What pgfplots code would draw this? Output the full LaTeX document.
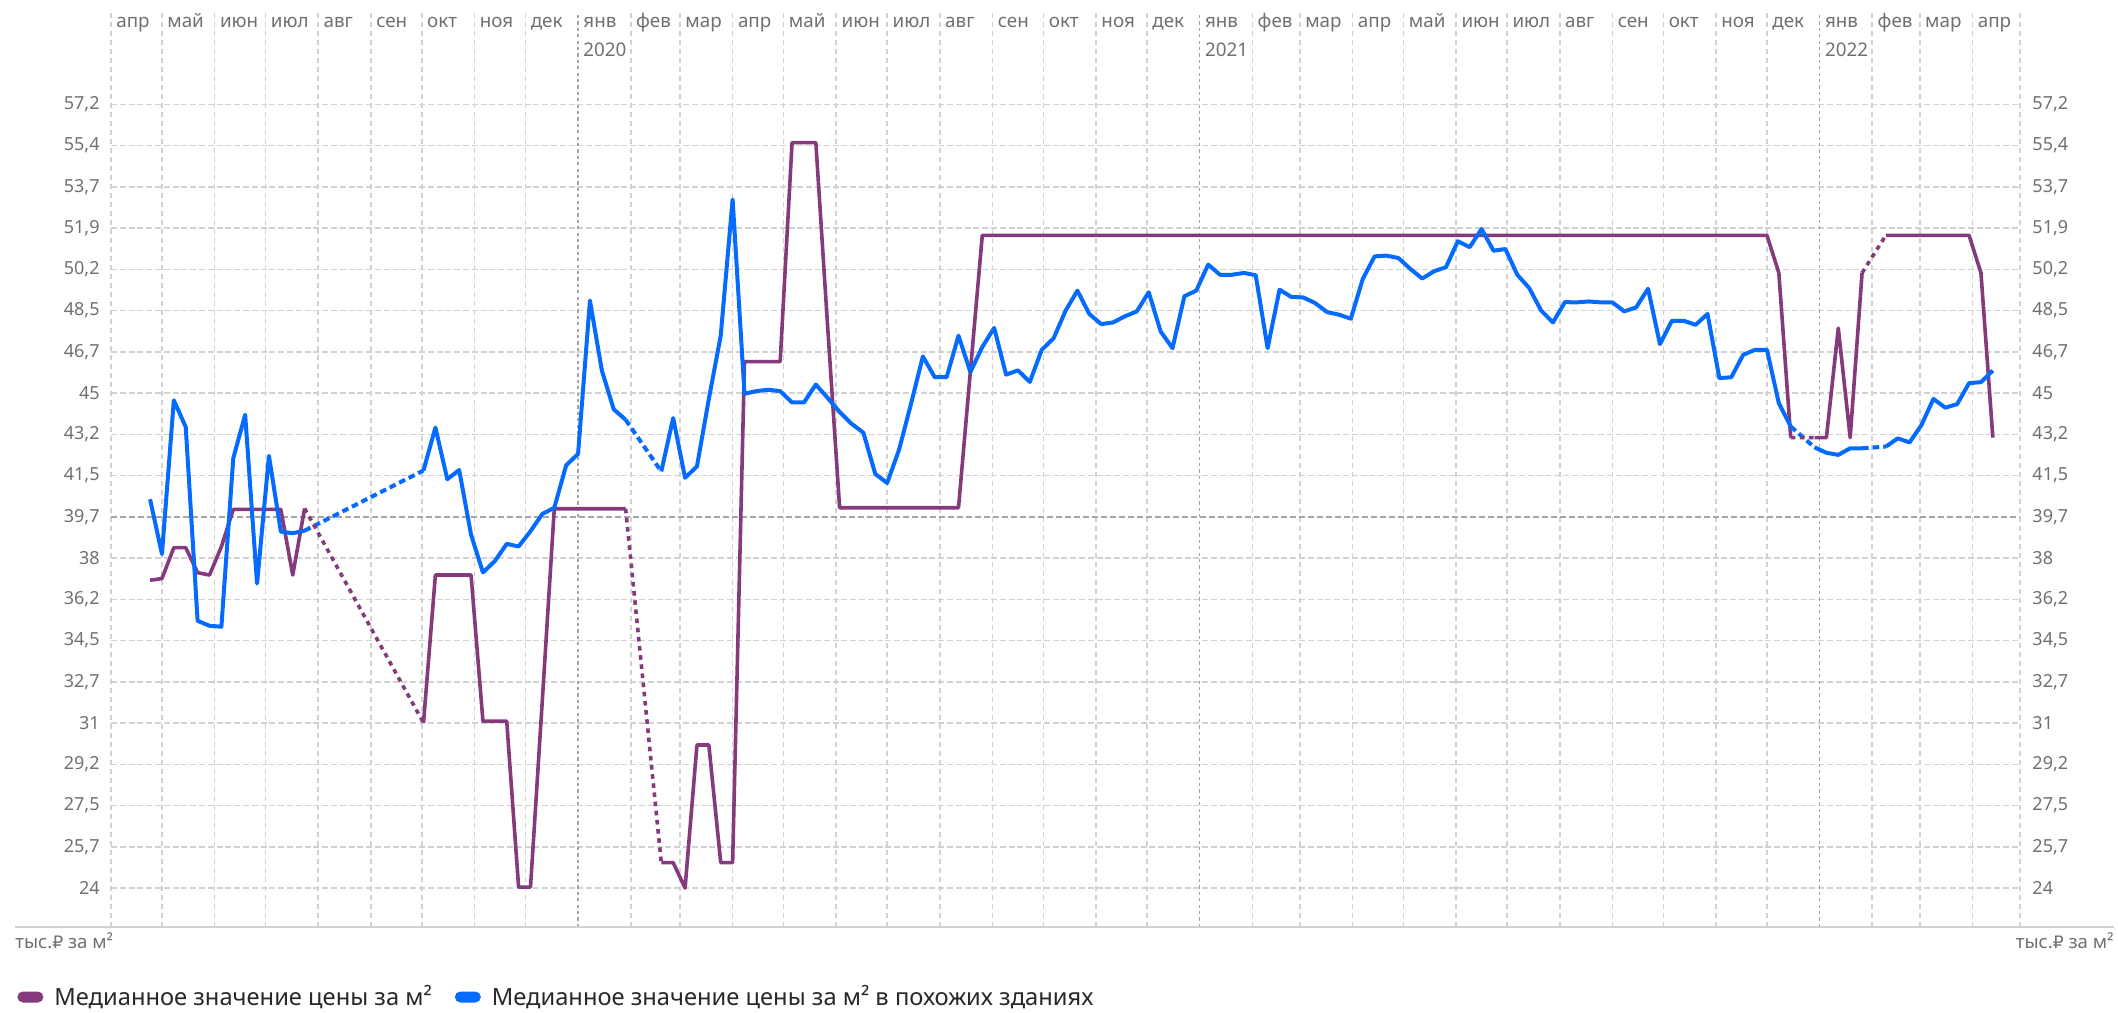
\documentclass[border=0pt]{standalone}
\usepackage{fontspec}
\setmainfont{Noto Sans}
\newfontfamily\rubf{DejaVu Sans}
\usepackage{pgfplots}
\usepackage{pgfplotstable}
\pgfplotsset{compat=1.18}
\definecolor{cpur}{RGB}{132,58,124}
\definecolor{cblu}{RGB}{5,107,255}
\definecolor{gridl}{RGB}{210,210,210}
\definecolor{gridd}{RGB}{165,165,165}
\definecolor{tickc}{RGB}{112,112,112}
\definecolor{legc}{RGB}{40,40,40}
\newcommand{\unitlab}{тыс.{\rubf\fontsize{8.6}{10}\selectfont ₽} за м²}

\pgfplotstableread{
d v
23 40.47
30 38.15
37 44.66
44 43.53
51 35.32
58 35.11
65 35.07
72 42.21
79 44.05
86 36.90
93 42.31
100 39.10
107 39.03
114 39.14
150 nan
184 41.69
191 43.51
198 41.32
205 41.71
212 38.97
219 37.37
226 37.85
233 38.58
240 38.47
247 39.12
254 39.85
261 40.11
268 41.91
275 42.39
282 48.89
289 45.93
296 44.28
303 43.84
310 nan
324 41.65
331 43.91
338 41.38
345 41.86
352 44.72
359 47.40
366 53.17
373 44.94
380 45.05
387 45.11
394 45.05
401 44.57
408 44.57
415 45.33
422 44.76
429 44.17
436 43.67
443 43.29
450 41.54
457 41.16
464 42.57
471 44.50
478 46.52
485 45.64
492 45.64
499 47.40
506 45.86
513 46.92
520 47.73
527 45.75
534 45.93
541 45.44
548 46.80
555 47.29
562 48.45
569 49.31
576 48.32
583 47.89
590 47.96
597 48.22
604 48.43
611 49.24
618 47.58
625 46.87
632 49.07
639 49.31
646 50.41
653 49.98
660 49.98
667 50.06
674 49.96
681 46.87
688 49.35
695 49.04
702 49.02
709 48.78
716 48.40
723 48.29
730 48.12
737 49.80
744 50.76
751 50.79
758 50.69
765 50.23
772 49.82
779 50.13
786 50.30
793 51.40
800 51.15
807 51.92
814 51.00
821 51.07
828 49.98
835 49.42
842 48.47
849 47.96
856 48.82
863 48.81
870 48.85
877 48.81
884 48.81
891 48.43
898 48.60
905 49.39
912 47.04
919 48.03
926 48.03
933 47.86
940 48.32
947 45.60
954 45.64
961 46.59
968 46.80
975 46.80
982 44.54
989 43.55
996 nan
1003 42.67
1010 42.44
1017 42.35
1024 42.63
1031 42.63
1038 nan
1045 42.70
1052 43.05
1059 42.88
1066 43.62
1073 44.72
1080 44.35
1087 44.50
1094 45.39
1101 45.43
1108 45.92
}\bluetab

\pgfplotstableread{
d v
114 39.14
184 41.69
250 nan
303 43.84
324 41.65
500 nan
989 43.55
1003 42.67
1020 nan
1031 42.63
1045 42.70
}\bluegap

\pgfplotstableread{
d v
23 37.04
30 37.11
37 38.42
44 38.42
51 37.36
58 37.26
65 38.46
72 40.04
79 40.04
86 40.04
93 40.04
100 40.04
107 37.26
114 40.08
150 nan
184 31.00
191 37.26
198 37.26
205 37.26
212 37.26
219 31.07
226 31.07
233 31.07
240 24.04
247 24.04
254 32.00
261 40.07
268 40.07
275 40.07
282 40.07
289 40.07
296 40.07
303 40.07
310 nan
324 25.08
331 25.08
338 24.00
345 30.06
352 30.06
359 25.08
366 25.08
373 46.30
380 46.30
387 46.30
394 46.30
401 55.58
408 55.58
415 55.58
422 47.73
429 40.11
436 40.11
443 40.11
450 40.11
457 40.11
464 40.11
471 40.11
478 40.11
485 40.11
492 40.11
499 40.11
506 45.90
513 51.65
975 51.65
982 50.06
989 43.08
996 nan
1003 43.08
1010 43.08
1017 47.72
1024 43.08
1031 50.06
1038 nan
1045 51.65
1094 51.65
1101 50.06
1108 43.08
}\purtab

\pgfplotstableread{
d v
114 40.08
184 31.00
250 nan
303 40.07
324 25.08
500 nan
989 43.08
1003 43.08
1020 nan
1031 50.06
1045 51.65
}\purgap

\begin{document}
\begin{tikzpicture}
\begin{axis}[
  at={(0,0)}, anchor=south west, scale only axis,
  width=954.5pt, height=457pt,
  xmin=0, xmax=1124, ymin=22.35, ymax=61.07,
  clip=false,
  axis line style={draw=none},
  major tick length=0pt,
  unbounded coords=jump,
  xtick={0,30,61,91,122,153,183,214,244,306,335,366,396,427,457,488,519,549,580,610,672,700,731,761,792,822,853,884,914,945,975,1037,1065,1096,1124},
  xticklabels={,,,,,,,,,,,,,,,,,,,,,,,,,,,,,,,,,,},
  extra x ticks={275,641,1006},
  extra x tick labels={,,},
  extra x tick style={major grid style={gridd, line width=0.8pt, dash pattern=on 1.6pt off 1.6pt}, major x grid style={gridd, line width=0.8pt, dash pattern=on 1.6pt off 1.6pt}},
  ytick={24,25.74737,27.49474,29.24211,30.98947,32.73684,34.48421,36.23158,37.97895,41.47368,43.22105,44.96842,46.71579,48.46316,50.21053,51.95789,53.70526,55.45263,57.2},
  yticklabels={24,{25,7},{27,5},{29,2},31,{32,7},{34,5},{36,2},38,{41,5},{43,2},45,{46,7},{48,5},{50,2},{51,9},{53,7},{55,4},{57,2}},
  extra y ticks={39.72632},
  extra y tick labels={39{,}7},
  extra y tick style={major grid style={gridd, line width=0.8pt, dash pattern=on 3pt off 1.5pt}, major y grid style={gridd, line width=0.8pt, dash pattern=on 3pt off 1.5pt}},
  xmajorgrids, ymajorgrids,
  major x grid style={gridl, line width=0.8pt, dash pattern=on 2.5pt off 2pt},
  major y grid style={gridl, line width=0.8pt, dash pattern=on 3pt off 1.4pt},
  yticklabel style={font=\fontsize{9}{10}\selectfont, text=tickc, anchor=east, inner sep=0pt, xshift=-5.5pt},
  legend columns=2,
  legend cell align=left,
  legend style={draw=none, fill=none, at={(0,0)}, anchor=west, xshift=-47pt, yshift=-35pt,
    inner sep=0pt, font=\fontsize{11.85}{14}\selectfont, text=legc,
    nodes={inner sep=0pt},
    /tikz/every odd column/.append style={column sep=5.5pt},
    /tikz/every even column/.append style={column sep=11.5pt}},
  legend image code/.code={\fill[#1,draw=none,rounded corners=2.75pt] (0pt,-2.75pt) rectangle (13pt,2.75pt);},
]
\addplot[cpur, line width=1.8pt, line join=round] table[x=d,y=v] {\purtab};
\addlegendentry{Медианное значение цены за м²}
\addplot[cblu, line width=2pt, line join=round] table[x=d,y=v] {\bluetab};
\addlegendentry{Медианное значение цены за м² в похожих зданиях}
\addplot[cblu, line width=2pt, dash pattern=on 3.3pt off 2pt, forget plot] table[x=d,y=v] {\bluegap};
\addplot[cpur, line width=1.8pt, dash pattern=on 2.3pt off 2.3pt, forget plot] table[x=d,y=v] {\purgap};

\draw[gridl, line width=0.8pt] ([xshift=-48pt]rel axis cs:0,0) -- ([xshift=47pt]rel axis cs:1,0);
\node[anchor=base west, inner sep=0pt, xshift=-48pt, yshift=-10.5pt, font=\fontsize{9.3}{10}\selectfont, text=tickc] at (rel axis cs:0,0) {\unitlab};
\node[anchor=base east, inner sep=0pt, xshift=47pt, yshift=-10.5pt, font=\fontsize{9.3}{10}\selectfont, text=tickc] at (rel axis cs:1,0) {\unitlab};

\pgfplotsextra{
  \foreach \d/\m in {0/апр,30/май,61/июн,91/июл,122/авг,153/сен,183/окт,214/ноя,244/дек,275/янв,306/фев,335/мар,366/апр,396/май,427/июн,457/июл,488/авг,519/сен,549/окт,580/ноя,610/дек,641/янв,672/фев,700/мар,731/апр,761/май,792/июн,822/июл,853/авг,884/сен,914/окт,945/ноя,975/дек,1006/янв,1037/фев,1065/мар,1096/апр}{
    \node[anchor=base west, inner sep=0pt, xshift=2.5pt, font=\fontsize{9.4}{10}\selectfont, text=tickc] at (axis cs:\d,60.46) {\m};
  }
  \foreach \d/\y in {275/2020,641/2021,1006/2022}{
    \node[anchor=base west, inner sep=0pt, xshift=2.5pt, font=\fontsize{9.4}{10}\selectfont, text=tickc] at (axis cs:\d,59.21) {\y};
  }
}
\end{axis}

\begin{axis}[
  at={(0,0)}, anchor=south west, scale only axis,
  width=954.5pt, height=457pt,
  xmin=0, xmax=1124, ymin=22.35, ymax=61.07,
  hide x axis,
  axis y line*=right,
  y axis line style={draw=none},
  major tick length=0pt,
  ytick={24,25.74737,27.49474,29.24211,30.98947,32.73684,34.48421,36.23158,37.97895,39.72632,41.47368,43.22105,44.96842,46.71579,48.46316,50.21053,51.95789,53.70526,55.45263,57.2},
  yticklabels={24,{25,7},{27,5},{29,2},31,{32,7},{34,5},{36,2},38,{39,7},{41,5},{43,2},45,{46,7},{48,5},{50,2},{51,9},{53,7},{55,4},{57,2}},
  yticklabel style={font=\fontsize{9}{10}\selectfont, text=tickc, anchor=west, inner sep=0pt, xshift=6pt},
]
\end{axis}
\pgfresetboundingbox
\path (-55.5pt,-42.5pt) rectangle (1003.5pt,463.5pt);
\end{tikzpicture}
\end{document}
